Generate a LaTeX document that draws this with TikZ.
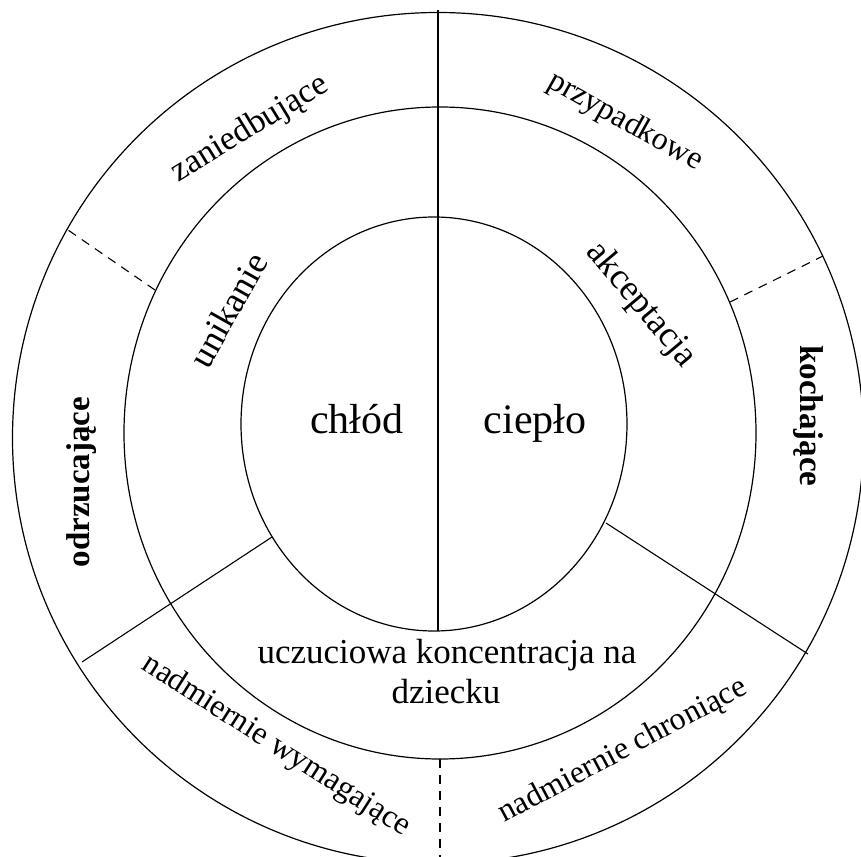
\documentclass[tikz,border=0pt]{standalone}
\usepackage{fontspec}
\setmainfont{Liberation Serif}
\begin{document}
\begin{tikzpicture}[x=1pt,y=1pt,
  ring/.style={line width=1.2pt},
  divider/.style={line width=1.1pt},
  softdash/.style={line width=1.1pt, dash pattern=on 9pt off 7pt},
  core/.style={font=\fontsize{42}{48}\selectfont},
  mid/.style={font=\fontsize{35}{40}\selectfont, inner sep=0pt},
  band/.style={font=\fontsize{36}{42}\selectfont, inner sep=0pt},
  rim/.style={font=\fontsize{32}{38}\selectfont, inner sep=0pt},
  rimbold/.style={font=\fontsize{33}{38}\selectfont\bfseries, inner sep=0pt},
]
\useasboundingbox (-438,-418) rectangle (423,438);
\clip (-438,-418) rectangle (423,438);
\fill[white] (-438,-418) rectangle (423,438);

% three rings
\draw[ring] (0,0) circle[radius=425.5];
\draw[ring] (2,5) ellipse[x radius=316, y radius=326];
\draw[ring] (-4,14) ellipse[x radius=193, y radius=207];

% end points of the dividing lines
\coordinate (top) at (0,428);
\coordinate (innerbottom) at (0,-193);
\coordinate (midbottom) at (2,-321);
\coordinate (outerbottom) at (2,-432);
\coordinate (ulmid) at (-283,148);
\coordinate (ulout) at (-370,208);
\coordinate (urmid) at (292,136);
\coordinate (urout) at (385,182);
\coordinate (llin) at (-166,-99);
\coordinate (llout) at (-356,-224);
\coordinate (lrin) at (168,-85);
\coordinate (lrout) at (370,-216);

\draw[divider] (top) -- (innerbottom);
\draw[softdash] (midbottom) -- (outerbottom);
\draw[softdash] (ulmid) -- (ulout);
\draw[softdash] (urmid) -- (urout);
\draw[divider] (llin) -- (llout);
\draw[divider] (lrin) -- (lrout);

% centre
\node[core, anchor=base] (cold) at (-81,5) {chłód};
\node[core, anchor=base] (warm) at (97,5) {ciepło};

% middle band
\node[band, rotate=60.6] (avoid) at (-210,128) {unikanie};
\node[band, rotate=-50] (accept) at (203,133) {akceptacja};
\node[mid, anchor=base] (focus1) at (9,-225) {uczuciowa koncentracja na};
\node[mid, anchor=base] (focus2) at (8,-265) {dziecku};

% outer band
\node[rim, font=\fontsize{34}{40}\selectfont, rotate=31.5] (neglect) at (-188,309) {zaniedbujące};
\node[rim, rotate=-29.3] (casual) at (187,316) {przypadkowe};
\node[rimbold, rotate=90] (reject) at (-356,-44) {odrzucające};
\node[rimbold, rotate=-90] (loving) at (370,22) {kochające};
\node[rim, rotate=-32.6] (demand) at (-162,-308) {nadmiernie wymagające};
\node[rim, rotate=28] (protect) at (185,-313) {nadmiernie chroniące};
\end{tikzpicture}
\end{document}
